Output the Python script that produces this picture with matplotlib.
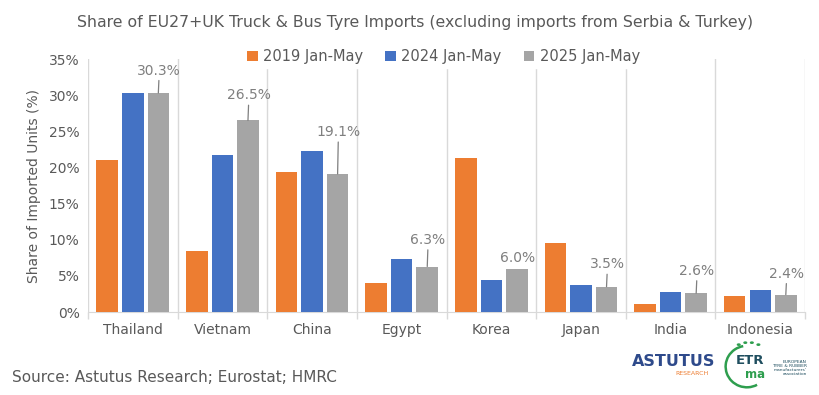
import numpy as np
import matplotlib.pyplot as plt
from matplotlib.patches import Arc, Circle

countries = ['Thailand', 'Vietnam', 'China', 'Egypt', 'Korea', 'Japan', 'India', 'Indonesia']
share_2019 = [21.0, 8.5, 19.4, 4.0, 21.3, 9.6, 1.1, 2.2]
share_2024 = [30.3, 21.7, 22.3, 7.3, 4.5, 3.8, 2.8, 3.0]
share_2025 = [30.3, 26.5, 19.1, 6.3, 6.0, 3.5, 2.6, 2.4]
series_names = ['2019 Jan-May', '2024 Jan-May', '2025 Jan-May']
colors = ['#ED7D31', '#4472C4', '#A5A5A5']

# how far each 2025 label sits above its bar (points); Korea has no leader line
label_lift = [11, 13, 25, 14, 3, 11, 11, 10]
leader = [True, True, True, True, False, True, True, True]

plt.rcParams['font.family'] = ['DejaVu Sans']
txt = '#595959'
grid_c = '#D9D9D9'

fig = plt.figure(figsize=(8.19, 3.95), dpi=100)
ax = fig.add_axes([0.1074, 0.210, 0.8756, 0.6406])

x = np.arange(len(countries))
w = 0.24
step = 0.285
for i, (vals, name, c) in enumerate(zip([share_2019, share_2024, share_2025], series_names, colors)):
    ax.bar(x + (i - 1) * step, vals, width=w, color=c, label=name, zorder=3)

for xi, v, dy, ld in zip(x, share_2025, label_lift, leader):
    props = None
    if ld:
        props = dict(arrowstyle='-', color='#7F7F7F', lw=0.9, shrinkA=0, shrinkB=0,
                     relpos=(0.5, 0.0))
    ax.annotate(f'{v:.1f}%', (xi + step, v), xytext=(0.5, dy), textcoords='offset points',
                ha='center', va='bottom', fontsize=10, color='#7F7F7F', zorder=5,
                arrowprops=props)

ax.set_xlim(-0.5, len(countries) - 0.5)
ax.set_ylim(0, 35)
ax.set_yticks(np.arange(0, 36, 5))
ax.set_yticklabels([f'{t}%' for t in range(0, 36, 5)], fontsize=10, color=txt)
ax.set_xticks(x)
ax.set_xticklabels(countries, fontsize=10, color=txt)
ax.tick_params(axis='x', which='major', length=0, pad=8)
ax.tick_params(axis='y', length=0, pad=6)
ax.set_xticks(np.arange(-0.5, len(countries)), minor=True)
ax.tick_params(axis='x', which='minor', length=5, color=grid_c, width=1)
ax.grid(axis='x', which='minor', color=grid_c, lw=1, zorder=0)
for s in ['top', 'right', 'left']:
    ax.spines[s].set_visible(False)
ax.spines['bottom'].set_color(grid_c)
ax.set_ylabel('Share of Imported Units (%)', fontsize=10, color=txt, labelpad=6)

leg = ax.legend(loc='center', bbox_to_anchor=(0.496, 1.008), ncol=3, frameon=True,
                fontsize=10.5, handlelength=0.7, handleheight=0.7, columnspacing=1.5,
                handletextpad=0.4, borderpad=0.25, edgecolor='white', facecolor='white',
                framealpha=1)
for t in leg.get_texts():
    t.set_color(txt)
leg.set_zorder(4)

fig.text(0.507, 0.944, 'Share of EU27+UK Truck & Bus Tyre Imports (excluding imports from Serbia & Turkey)',
         ha='center', va='center', fontsize=11.3, color=txt)
fig.text(0.015, 0.045, 'Source: Astutus Research; Eurostat; HMRC', ha='left', va='center',
         fontsize=11, color=txt)

# logos approximated with text and simple shapes
fig.text(0.822, 0.085, 'ASTUTUS', ha='center', va='center', fontsize=11.5, fontweight='bold',
         color='#2E4A8B')
fig.text(0.845, 0.055, 'RESEARCH', ha='center', va='center', fontsize=4.5, color='#ED7D31')
fig.patches.append(Arc((0.912, 0.072), 0.052, 0.105, theta1=95, theta2=285,
                       transform=fig.transFigure, color='#2E9E4E', lw=1.8))
for k in range(4):
    fig.patches.append(Circle((0.902 + k * 0.008, 0.135 - abs(k - 1.5) * 0.005), 0.0016,
                              transform=fig.transFigure, color='#2E9E4E'))
fig.text(0.916, 0.088, 'ETR', ha='center', va='center', fontsize=9.5, fontweight='bold',
         color='#1F4E5F')
fig.text(0.922, 0.052, 'ma', ha='center', va='center', fontsize=8.5, fontweight='bold',
         color='#2E9E4E')
fig.text(0.985, 0.068, 'EUROPEAN\nTYRE & RUBBER\nmanufacturers\'\nassociation', ha='right',
         va='center', fontsize=3.2, color='#1F4E5F', linespacing=1.0)

fig.savefig('out.png', dpi=100)
